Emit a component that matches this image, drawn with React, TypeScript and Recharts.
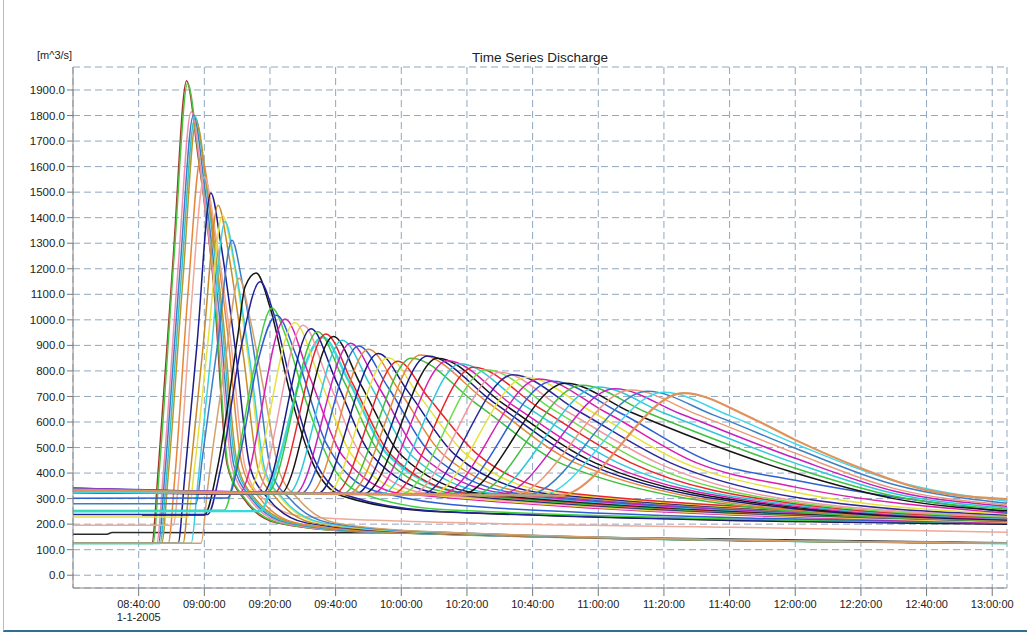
import { LineChart, Line, XAxis, YAxis, CartesianGrid } from 'recharts'

type Pt = [number, number]

// time axis: minutes after 08:20 on 1-1-2005
const START_MIN = 8 * 60 + 20
const T = 284.5
const timeTicks = [20, 40, 60, 80, 100, 120, 140, 160, 180, 200, 220, 240, 260, 280]
const minorTimeTicks = Array.from({ length: 72 }, (_, i) => i * 4)
const qTicks = [0, 100, 200, 300, 400, 500, 600, 700, 800, 900, 1000, 1100, 1200, 1300, 1400, 1500, 1600, 1700, 1800, 1900]
const minorQTicks = [-50, 50, 150, 250, 350, 450, 550, 650, 750, 850, 950, 1050, 1150, 1250, 1350, 1450, 1550, 1650, 1750, 1850, 1950]
const dateLabel = '1-1-2005'
const title = 'Time Series Discharge'
const unitLabel = '[m^3/s]'

// upstream points, sharp early peaks from the ~125 base
const upstreamWave: Pt[][] = [
  [[0, 125], [24, 125], [26, 420], [30.5, 1240], [34.6, 1936], [38, 1650], [42.7, 1155], [47, 430], [52, 300], [62, 205], [85, 172], [T, 125]],
  [[0, 124], [24.3, 124], [26.4, 430], [30.8, 1250], [34.9, 1925], [38.3, 1640], [43, 1140], [47.3, 425], [52.5, 298], [63, 204], [86, 171], [T, 124]],
  [[0, 126], [25.5, 126], [27.5, 400], [32, 1200], [36, 1815], [39.5, 1520], [44, 1020], [48.5, 420], [54, 295], [64, 205], [88, 170], [T, 126]],
  [[0, 125], [26, 125], [28, 400], [32.5, 1180], [36.7, 1802], [40, 1530], [44.5, 1030], [49, 430], [54.5, 298], [65, 206], [90, 170], [T, 125]],
  [[0, 124], [26.5, 124], [28.5, 390], [33, 1170], [37.2, 1795], [40.5, 1530], [45, 1040], [49.5, 440], [55, 300], [66, 206], [92, 170], [T, 124]],
  [[0, 125], [27, 125], [29, 390], [33.5, 1160], [37.5, 1778], [41, 1500], [45.5, 1030], [50, 440], [55.5, 300], [67, 206], [94, 170], [T, 125]],
  [[0, 125], [29, 125], [31, 380], [35, 1100], [39, 1640], [42.5, 1390], [47, 960], [51.5, 430], [57, 300], [68, 205], [96, 170], [T, 125]],
  [[0, 196], [30.5, 196], [32.5, 420], [36, 1050], [40, 1560], [43.5, 1330], [48, 920], [52.5, 420], [58, 300], [70, 230], [100, 212], [200, 188], [T, 168]],
  [[0, 125], [32, 125], [34, 380], [37.7, 894], [42, 1497], [45, 1300], [49.5, 880], [54, 420], [59.5, 300], [71, 205], [100, 170], [T, 125]],
  [[0, 125], [33.5, 125], [35.5, 370], [39.5, 880], [44.2, 1449], [47.5, 1250], [52, 850], [56.5, 410], [62, 300], [73, 205], [102, 170], [T, 125]],
  [[0, 228], [35, 228], [37, 420], [41, 900], [45.5, 1410], [49, 1220], [53.5, 840], [58, 410], [63.5, 300], [75, 205], [104, 170], [T, 125]],
  [[0, 125], [36, 125], [38, 360], [42, 860], [46.3, 1385], [49.5, 1200], [54, 830], [58.5, 410], [64, 300], [76, 205], [106, 170], [T, 125]],
  [[0, 280], [37.5, 280], [39.5, 470], [44, 900], [48.4, 1312], [51.5, 1150], [56, 800], [60.5, 400], [66, 300], [78, 205], [108, 170], [T, 125]],
  [[0, 125], [39, 125], [41, 340], [46, 800], [50.6, 1163], [54, 1000], [58.5, 700], [63, 400], [68.5, 300], [80, 205], [110, 170], [T, 125]],
]
const upstreamColors = ['#a5322a', '#4cc23e', '#ef8fb0', '#3c7fc4', '#2fc2d6', '#b49a2a', '#e3873a', '#f0a898', '#1c1c8a', '#c98a2a', '#e6e040', '#3ad0e0', '#3f7cc8', '#d6a06a']

// tributary points starting from the 230-300 bases
const tributaryWave: Pt[][] = [
  [[21, 236], [40, 236], [44, 420], [50.3, 947], [52.4, 1129], [55.8, 1183], [60, 1050], [66, 720], [73, 440], [82, 310], [110, 250], [T, 200]],
  [[0, 238], [41, 238], [45, 420], [51, 880], [57, 1149], [61, 1030], [67, 720], [74, 440], [84, 310], [112, 250], [T, 202]],
  [[0, 253], [46, 254], [50, 450], [55, 800], [60.6, 1046], [65, 930], [71, 680], [78, 450], [88, 320], [115, 255], [T, 205]],
  [[0, 250], [57, 251], [62, 420], [70, 800], [76, 932], [84, 760], [96, 470], [120, 320], [T, 215]],
  [[0, 301], [47, 302], [51, 480], [56, 820], [62, 1018], [68, 860], [77, 520], [92, 330], [130, 262], [T, 206]],
]
const tributaryColors = ['#151515', '#22229a', '#3fcf3f', '#36dada', '#2f5fd0']

// main channel, first family of peaks (09:25 - 10:00)
const firstFamily: Pt[][] = [
  [[0, 330], [50.6, 322], [64.6, 1003], [72, 780], [82, 470], [100, 320], [T, 205]],
  [[0, 336], [53, 320], [67.5, 990], [75, 775], [85, 470], [104, 320], [T, 208]],
  [[0, 340], [55.5, 320], [70.1, 979], [77.5, 770], [88, 470], [108, 320], [T, 210]],
  [[0, 326], [57.5, 318], [72.5, 965], [80, 765], [91, 470], [112, 320], [T, 212]],
  [[0, 332], [59, 321], [74.5, 953], [82.5, 760], [94, 470], [116, 320], [T, 214]],
  [[0, 338], [61, 319], [77, 945], [85, 755], [97, 470], [120, 320], [T, 216]],
  [[0, 324], [63, 317], [79.3, 935], [87.5, 750], [100, 470], [124, 320], [T, 218]],
  [[0, 334], [65.5, 320], [82, 920], [90.5, 745], [103, 470], [128, 320], [T, 220]],
  [[0, 328], [67.5, 318], [84.5, 908], [93, 740], [106, 470], [132, 320], [T, 222]],
  [[0, 342], [69.5, 321], [87, 898], [96, 735], [109.5, 470], [136, 320], [T, 224]],
  [[0, 330], [72, 318], [90, 885], [99, 730], [113, 470], [140, 320], [T, 226]],
  [[0, 336], [74.5, 320], [93, 868], [102, 720], [116.5, 470], [144, 320], [T, 228]],
  [[0, 326], [77, 317], [96, 852], [105, 710], [120, 470], [148, 320], [T, 230]],
  [[0, 338], [79.5, 319], [99, 838], [108, 700], [123.5, 470], [152, 320], [T, 232]],
]
const firstColors = ['#d91fb0', '#e6e23a', '#ef9aa8', '#1a1a80', '#3fbf3f', '#e8262a', '#151515', '#2fc8d8', '#c51fc0', '#2f5fd0', '#e3873a', '#1a1a80', '#e6e23a', '#e8262a']

// main channel, second family of peaks (10:00 - 11:26)
const secondFamily: Pt[][] = [
  [[0, 332], [82, 318], [103, 850], [123, 670], [150, 430], [220, 250], [T, 212]],
  [[0, 340], [84, 320], [105.8, 862], [126, 680], [153, 440], [220, 255], [T, 215]],
  [[0, 324], [86, 317], [108, 858], [128, 678], [156, 440], [220, 260], [T, 216]],
  [[0, 334], [88.5, 319], [111, 850], [131, 672], [159, 440], [220, 265], [T, 218]],
  [[0, 328], [91, 318], [114, 840], [134, 665], [162, 440], [220, 270], [T, 220]],
  [[0, 336], [94, 320], [118, 828], [138, 660], [166, 440], [220, 275], [T, 222]],
  [[0, 326], [97, 317], [122, 814], [142, 655], [170, 440], [220, 280], [T, 225]],
  [[0, 340], [100, 319], [126, 805], [146, 650], [174, 440], [220, 285], [T, 228]],
  [[0, 330], [103, 318], [130, 795], [150, 645], [178, 440], [220, 292], [T, 232]],
  [[0, 338], [106, 317], [134, 785], [154, 642], [182, 440], [220, 305], [T, 236]],
  [[0, 326], [109, 316], [138, 775], [158, 640], [186, 440], [220, 325], [T, 240]],
  [[0, 334], [112, 317], [142, 768], [162, 640], [190, 440], [220, 345], [T, 243]],
  [[0, 342], [115, 316], [146, 760], [166, 640], [194, 445], [220, 372], [T, 247]],
  [[0, 328], [118, 315], [150, 752], [170, 638], [220, 400], [250, 300], [T, 252]],
  [[0, 336], [122, 316], [155, 744], [175, 636], [220, 419], [250, 310], [T, 258]],
  [[0, 324], [126, 314], [160, 737], [180, 635], [220, 439], [250, 320], [T, 264]],
  [[0, 340], [130, 316], [165, 730], [185, 632], [220, 458], [250, 330], [T, 270]],
  [[0, 330], [134, 315], [170, 725], [190, 630], [220, 478], [250, 340], [T, 275]],
  [[0, 338], [138, 314], [175, 720], [195, 628], [220, 497], [250, 355], [T, 282]],
  [[0, 326], [142, 313], [180, 716], [200, 625], [220, 515], [250, 370], [T, 290]],
  [[0, 334], [148, 312], [186, 713], [206, 620], [220, 530], [240, 419], [260, 333], [T, 298]],
]
const secondColors = ['#3fbf3f', '#e3873a', '#1a1a80', '#151515', '#d91fb0', '#2fc8d8', '#e8262a', '#6ddc4a', '#ef9aa8', '#2a2a9a', '#e6e23a', '#d91fb0', '#2f5fd0', '#151515', '#3fbf3f', '#2fc8d8', '#c51fc0', '#e89a7a', '#3c7fc4', '#40d8e8', '#e0925a']

// flat black line near the bottom
const flatLines: Pt[][] = [[[0, 160], [10, 160], [12, 167], [95, 166], [150, 150], [T, 127]]]
const flatColors = ['#2a2a2a']

const groups: { pts: Pt[][]; colors: string[] }[] = [
  { pts: flatLines, colors: flatColors },
  { pts: upstreamWave, colors: upstreamColors },
  { pts: tributaryWave, colors: tributaryColors },
  { pts: firstFamily, colors: firstColors },
  { pts: secondFamily, colors: secondColors },
]

const series = groups.flatMap((g, gi) =>
  g.pts.map((pts, i) => ({
    id: `s${gi}_${i}`,
    color: g.colors[i % g.colors.length],
    data: pts.map(([t, q]) => ({ t, q })),
  }))
)

const pad = (n: number) => String(n).padStart(2, '0')
const fmtTime = (t: number) => {
  const m = START_MIN + t
  return `${pad(Math.floor(m / 60))}:${pad(m % 60)}:00`
}

const FONT = '"Liberation Sans", Arial, sans-serif'

const TimeTick = (props: any) => {
  const { x, y, payload } = props
  return (
    <g>
      <text x={x} y={y} dy="0.71em" textAnchor="middle" fontSize={11} fill="#222" fontFamily={FONT}>
        {fmtTime(payload.value)}
      </text>
      {payload.value === timeTicks[0] && (
        <text x={x} y={y + 13} dy="0.71em" textAnchor="middle" fontSize={11} fill="#222" fontFamily={FONT}>
          {dateLabel}
        </text>
      )}
    </g>
  )
}

const NoTick = () => <g />

export default function App() {
  return (
    <div style={{ position: 'absolute', left: 0, top: 0, width: 1027, height: 634, background: '#fff', fontFamily: FONT }}>
      <div
        style={{
          position: 'absolute', left: 3, top: 0, width: 1024, height: 632,
          borderLeft: '1px solid #a8bfd4', borderBottom: '2px solid #2f6f92', boxSizing: 'border-box',
          pointerEvents: 'none',
        }}
      />
      <div style={{ position: 'absolute', left: 37, top: 49, fontSize: 11, lineHeight: '13px', color: '#222' }}>{unitLabel}</div>
      <div style={{ position: 'absolute', left: 73, width: 934, top: 50, textAlign: 'center', fontSize: 13.5, lineHeight: '16px', color: '#222' }}>
        {title}
      </div>
      <LineChart width={1027} height={634} margin={{ top: 67, right: 20, bottom: 6, left: 13 }}>
        <XAxis xAxisId="minor" dataKey="t" type="number" domain={[0, T]} allowDataOverflow ticks={minorTimeTicks}
          interval={0} height={0} tickSize={4} tick={NoTick} axisLine={false} tickLine={{ stroke: '#777' }} />
        <XAxis xAxisId="main" dataKey="t" type="number" domain={[0, T]} allowDataOverflow ticks={timeTicks}
          interval={0} height={40} tickSize={8} tickMargin={4} tick={TimeTick}
          axisLine={{ stroke: '#888' }} tickLine={{ stroke: '#777' }} />
        <XAxis xAxisId="top" orientation="top" dataKey="t" type="number" domain={[0, T]} allowDataOverflow ticks={[]}
          height={0} tick={false} tickLine={false} axisLine={{ stroke: '#a0a0a0' }} />
        <YAxis yAxisId="minor" type="number" domain={[-50, 1990]} allowDataOverflow ticks={minorQTicks}
          interval={0} width={0} tickSize={3} tick={NoTick} axisLine={false} tickLine={{ stroke: '#777' }} />
        <YAxis yAxisId="main" type="number" domain={[-50, 1990]} allowDataOverflow ticks={qTicks}
          interval={0} width={60} tickSize={6} tickMargin={2} tickFormatter={(v: number) => v.toFixed(1)}
          tick={{ fontSize: 11.5, fill: '#222', fontFamily: FONT }}
          axisLine={{ stroke: '#888' }} tickLine={{ stroke: '#777' }} />
        <YAxis yAxisId="right" orientation="right" type="number" domain={[-50, 1990]} allowDataOverflow ticks={[]}
          width={0} tick={false} tickLine={false} axisLine={{ stroke: '#555' }} />
        <CartesianGrid xAxisId="main" yAxisId="main" stroke="#8fa7bf" strokeDasharray="7 4" />
        {series.map(s => (
          <Line
            key={s.id}
            xAxisId="main"
            yAxisId="main"
            data={s.data}
            dataKey="q"
            type="monotone"
            stroke={s.color}
            strokeWidth={s.id === 's4_20' ? 2.2 : s.id === 's2_3' ? 2.4 : 1.5}
            dot={false}
            activeDot={false}
            isAnimationActive={false}
          />
        ))}
      </LineChart>
    </div>
  )
}
